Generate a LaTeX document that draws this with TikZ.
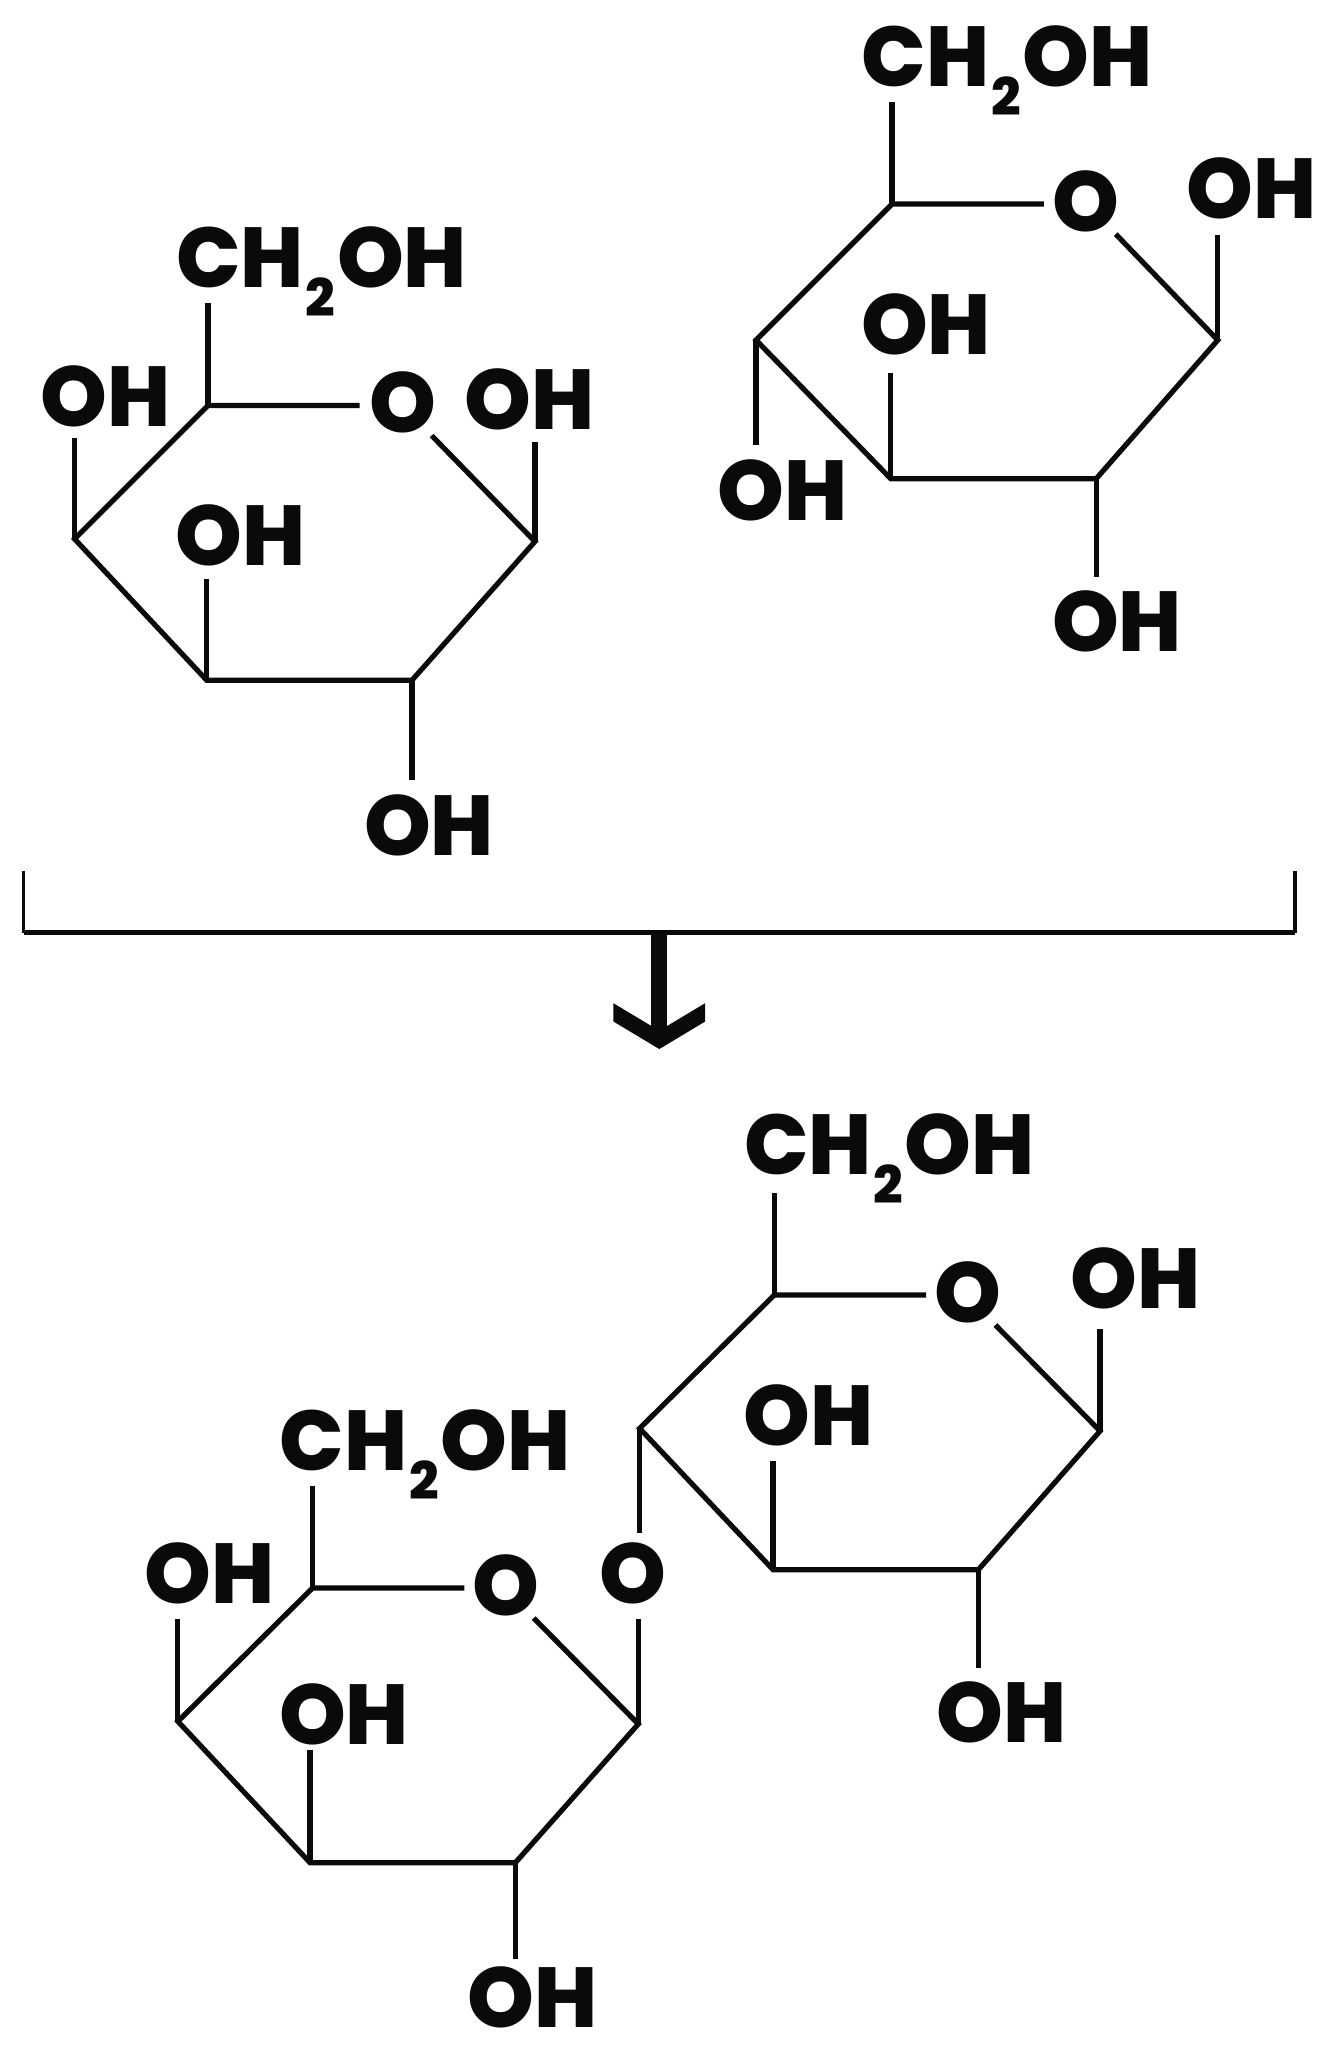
\documentclass[tikz,border=0pt]{standalone}
\usepackage{fontspec}
\setmainfont{Poppins}[BoldFont={* ExtraBold}]
\newcommand{\chtwo}{CH\kern0.02em\raisebox{-14.5pt}{\fontsize{26}{26}\selectfont 2}\kern0.02em OH}
\tikzset{
  x=0.65425pt,y=-0.65425pt,
  lab/.style={inner sep=0pt,anchor=base,text=ink,font=\fontsize{42.5}{43}\selectfont\bfseries},
  bond/.style={draw=ink,line width=2.6pt,line cap=butt,line join=miter},
  thin bracket/.style={draw=ink,line width=1.6pt},
}
\definecolor{ink}{HTML}{0A0A0C}
\begin{document}
\begin{tikzpicture}
\useasboundingbox (0,0) rectangle (1021,1568);
% ---------- first ring
\coordinate (a1) at (159,310); \coordinate (a2) at (409,414); \coordinate (a3) at (315,520);
\coordinate (a4) at (158,520); \coordinate (a5) at (57,412);
\coordinate (a6) at (275,310); \coordinate (a7) at (330,333);
\coordinate (a1t) at (159,232); \coordinate (a2t) at (409,338); \coordinate (a3t) at (315,596);
\coordinate (a4t) at (158,443); \coordinate (a5t) at (57,335);
\node[lab] (aCH) at (246,220) {\chtwo};
\node[lab] (aO) at (308,331) {O};
\node[lab] (aOHl) at (81,326) {OH};
\node[lab] (aOHr) at (405,328) {OH};
\node[lab] (aOHi) at (184,432) {OH};
\node[lab] (aOHb) at (328,654) {OH};
\draw[bond] (a6) -- (a1) -- (a5) -- (a4) -- (a3) -- (a2) -- (a7);
\draw[bond] (a1) -- (a1t); \draw[bond] (a2) -- (a2t); \draw[bond] (a3) -- (a3t);
\draw[bond] (a4) -- (a4t); \draw[bond] (a5) -- (a5t);
% ---------- second ring
\coordinate (b1) at (682,156); \coordinate (b2) at (931,260); \coordinate (b3) at (838,366);
\coordinate (b4) at (681,366); \coordinate (b5) at (578,260);
\coordinate (b6) at (798,156); \coordinate (b7) at (853,179);
\coordinate (b1t) at (682,78); \coordinate (b2t) at (931,180); \coordinate (b3t) at (838,441);
\coordinate (b4t) at (681,285); \coordinate (b5t) at (578,340);
\node[lab] (bCH) at (770,66) {\chtwo};
\node[lab] (bO) at (830,177) {O};
\node[lab] (bOHl) at (598,398) {OH};
\node[lab] (bOHr) at (957,167) {OH};
\node[lab] (bOHi) at (708,271) {OH};
\node[lab] (bOHb) at (854,498) {OH};
\draw[bond] (b6) -- (b1) -- (b5) -- (b4) -- (b3) -- (b2) -- (b7);
\draw[bond] (b1) -- (b1t); \draw[bond] (b2) -- (b2t); \draw[bond] (b3) -- (b3t);
\draw[bond] (b4) -- (b4t); \draw[bond] (b5) -- (b5t);
% ---------- bracket and arrow
\coordinate (k1) at (18,666); \coordinate (k2) at (18,713); \coordinate (k3) at (990,713);
\coordinate (k4) at (990,666); \coordinate (k5) at (504,713); \coordinate (k6) at (504,790);
\draw[thin bracket] (k1) -- (k2); \draw[thin bracket] (k4) -- (k3);
\draw[bond] (k2) -- (k3);
\draw[draw=ink,line width=8pt] (k5) -- (k6);
\fill[ink] (469,767) -- (504,788) -- (539,767) -- (539,781) -- (504,802) -- (469,781) -- cycle;
% ---------- third ring
\coordinate (c1) at (592,990); \coordinate (c2) at (841,1094); \coordinate (c3) at (748,1200);
\coordinate (c4) at (591,1200); \coordinate (c5) at (489,1092);
\coordinate (c6) at (708,990); \coordinate (c7) at (761,1013);
\coordinate (c1t) at (592,912); \coordinate (c2t) at (841,1016); \coordinate (c3t) at (748,1275);
\coordinate (c4t) at (591,1117); \coordinate (c5t) at (489,1172);
\node[lab] (cCH) at (680,898) {\chtwo};
\node[lab] (cO) at (740,1011) {O};
\node[lab] (cOHr) at (868,1000) {OH};
\node[lab] (cOHi) at (618,1105) {OH};
\node[lab] (cOHb) at (766,1332) {OH};
\draw[bond] (c6) -- (c1) -- (c5) -- (c4) -- (c3) -- (c2) -- (c7);
\draw[bond] (c1) -- (c1t); \draw[bond] (c2) -- (c2t); \draw[bond] (c3) -- (c3t);
\draw[bond] (c4) -- (c4t); \draw[bond] (c5) -- (c5t);
% ---------- fourth ring
\coordinate (d1) at (239,1214); \coordinate (d2) at (488,1318); \coordinate (d3) at (394,1424);
\coordinate (d4) at (237,1424); \coordinate (d5) at (136,1316);
\coordinate (d6) at (355,1214); \coordinate (d7) at (408,1237);
\coordinate (d1t) at (239,1136); \coordinate (d2t) at (488,1238); \coordinate (d3t) at (394,1498);
\coordinate (d4t) at (237,1338); \coordinate (d5t) at (136,1238);
\node[lab] (dCH) at (325,1124) {\chtwo};
\node[lab] (dO) at (387,1235) {O};
\node[lab] (dOHl) at (160,1226) {OH};
\node[lab] (dOHi) at (263,1334) {OH};
\node[lab] (dOHb) at (407,1550) {OH};
\node[lab] (eO) at (484,1226) {O};
\draw[bond] (d6) -- (d1) -- (d5) -- (d4) -- (d3) -- (d2) -- (d7);
\draw[bond] (d1) -- (d1t); \draw[bond] (d2) -- (d2t); \draw[bond] (d3) -- (d3t);
\draw[bond] (d4) -- (d4t); \draw[bond] (d5) -- (d5t);
\end{tikzpicture}
\end{document}
